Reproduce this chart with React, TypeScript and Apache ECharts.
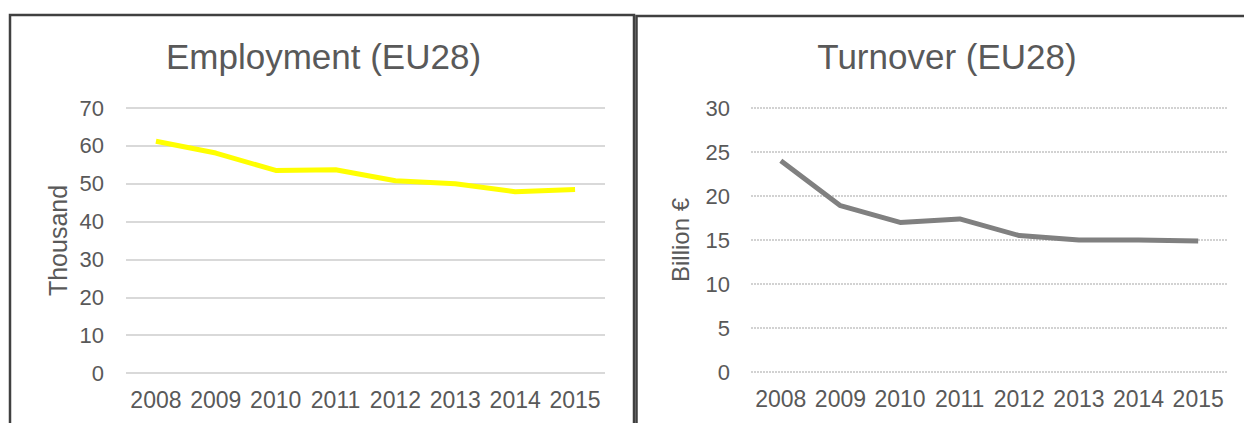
import React, { useEffect, useRef } from "react";
import * as echarts from "echarts";

const years = ["2008", "2009", "2010", "2011", "2012", "2013", "2014", "2015"];
const employment = [61.2, 58.1, 53.5, 53.7, 50.8, 50.0, 47.9, 48.5];
const turnover = [24.0, 18.9, 17.0, 17.4, 15.5, 15.0, 15.0, 14.9];
const titles = ["Employment (EU28)", "Turnover (EU28)"];
const axisNames = ["Thousand", "Billion €"];

const FONT = "'Liberation Sans', Arial, sans-serif";
const TEXT = "#595959";

export default function App() {
  const ref = useRef<HTMLDivElement>(null);
  useEffect(() => {
    document.body.style.margin = "0";
    const chart = echarts.init(ref.current!, undefined, { renderer: "svg" });
    const xAxisBase = (gridIndex: number) => ({
      type: "category" as const,
      gridIndex,
      data: years,
      boundaryGap: true,
      axisLine: { show: false },
      axisTick: { show: false },
      axisLabel: { fontSize: 23, color: TEXT, fontFamily: FONT, margin: 15, interval: 0 },
    });
    chart.setOption({
      animation: false,
      backgroundColor: "#ffffff",
      textStyle: { fontFamily: FONT },
      grid: [
        { left: 126, right: 639, top: 108, bottom: 50 },
        { left: 751, right: 16, top: 108, bottom: 51 },
      ],
      xAxis: [xAxisBase(0), xAxisBase(1)],
      yAxis: [
        {
          type: "value",
          gridIndex: 0,
          min: 0,
          max: 70,
          interval: 10,
          axisLine: { show: false },
          axisTick: { show: false },
          axisLabel: { fontSize: 22, color: TEXT, fontFamily: FONT, margin: 22 },
          splitLine: { lineStyle: { color: "#d9d9d9", width: 2 } },
          name: axisNames[0],
          nameLocation: "middle",
          nameRotate: 90,
          nameGap: 56,
          nameTextStyle: { fontSize: 25, color: TEXT, fontFamily: FONT },
        },
        {
          type: "value",
          gridIndex: 1,
          min: 0,
          max: 30,
          interval: 5,
          axisLine: { show: false },
          axisTick: { show: false },
          axisLabel: { fontSize: 22, color: TEXT, fontFamily: FONT, margin: 21 },
          splitLine: { lineStyle: { color: "#c4c4c4", width: 1.5, type: [2, 1] } },
          name: axisNames[1],
          nameLocation: "middle",
          nameRotate: 90,
          nameGap: 59,
          nameTextStyle: { fontSize: 24, color: TEXT, fontFamily: FONT },
        },
      ],
      series: [
        {
          type: "line",
          xAxisIndex: 0,
          yAxisIndex: 0,
          data: employment,
          symbol: "none",
          lineStyle: { color: "#ffff00", width: 5 },
        },
        {
          type: "line",
          xAxisIndex: 1,
          yAxisIndex: 1,
          data: turnover,
          symbol: "none",
          lineStyle: { color: "#808080", width: 5 },
        },
      ],
      graphic: [
        {
          type: "rect",
          shape: { x: 10, y: 15, width: 624, height: 430 },
          style: { fill: "none", stroke: "#404040", lineWidth: 2.5 },
          silent: true,
        },
        {
          type: "polyline",
          shape: { points: [[636.5, 440], [636.5, 16], [1250, 16]] },
          style: { fill: "none", stroke: "#404040", lineWidth: 2.5 },
          silent: true,
        },
        {
          type: "text",
          x: 323.5,
          y: 56.5,
          style: {
            text: titles[0],
            fontSize: 35,
            fontFamily: FONT,
            fill: TEXT,
            align: "center",
            verticalAlign: "middle",
          },
        },
        {
          type: "text",
          x: 947,
          y: 56.5,
          style: {
            text: titles[1],
            fontSize: 35,
            fontFamily: FONT,
            fill: TEXT,
            align: "center",
            verticalAlign: "middle",
          },
        },
      ],
    });
    return () => chart.dispose();
  }, []);
  return <div ref={ref} style={{ width: 1244, height: 423 }} />;
}
